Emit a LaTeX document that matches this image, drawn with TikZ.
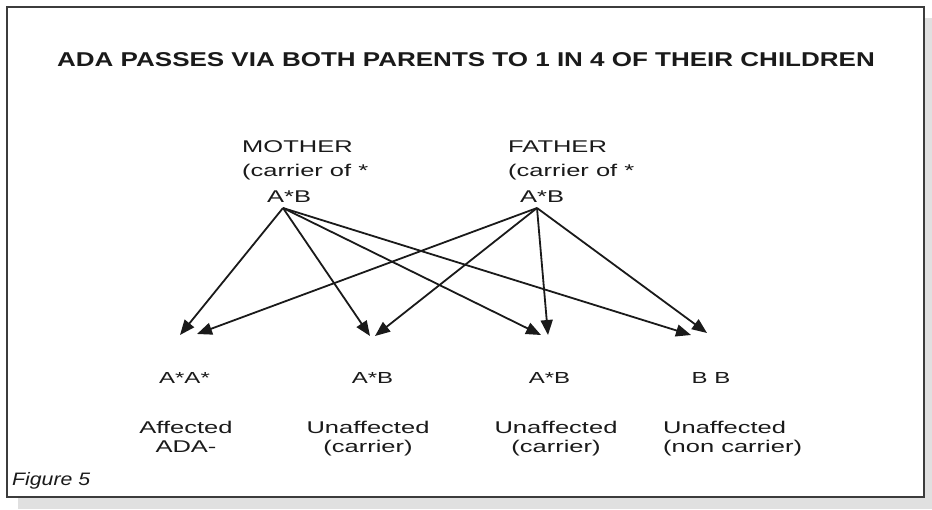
\documentclass[tikz,border=0pt]{standalone}
\usepackage{fontspec}
\setmainfont{Liberation Sans}
\newfontfamily\bodyfont{Liberation Sans}[FakeStretch=1.5]
\newfontfamily\titlefont{Liberation Sans}[FakeStretch=1.3]
\newfontfamily\figfont{Liberation Sans}[FakeStretch=1.18]
\usetikzlibrary{arrows.meta}
\definecolor{shadow}{HTML}{E0E0E0}
\definecolor{ink}{HTML}{1A1A1A}
\tikzset{
  txt/.style={inner sep=0pt, text=ink, font=\bodyfont\fontsize{17}{19}\selectfont},
  gen/.style={inner sep=0pt, text=ink, font=\bodyfont\fontsize{16}{19}\selectfont},
  desc/.style={inner sep=0pt, text=ink, font=\bodyfont\fontsize{17}{19}\selectfont},
  arr/.style={draw=ink, line width=1.8pt, -{Triangle[length=15pt,width=12pt]}},
}
\begin{document}
\begin{tikzpicture}[x=1pt,y=-1pt]
\useasboundingbox (0,0) rectangle (932,509);
% shadow and frame
\fill[shadow] (18,497) rectangle (932,509);
\fill[shadow] (924,18) rectangle (932,509);
\draw[draw=ink!85, line width=1.5pt, fill=white] (7,7) rectangle (924,497);
% title
\node[anchor=base, inner sep=0pt, text=ink, font=\titlefont\bfseries\fontsize{20}{24}\selectfont] (title) at (466,66) {ADA PASSES VIA BOTH PARENTS TO 1 IN 4 OF THEIR CHILDREN};
% parents
\node[txt, anchor=base west] (mname) at (242,152) {MOTHER};
\node[txt, anchor=base west] (mnote) at (242,176) {(carrier of *};
\node[txt, anchor=base west] (mgen) at (267,202) {A*B};
\node[txt, anchor=base west] (fname) at (508,152) {FATHER};
\node[txt, anchor=base west] (fnote) at (508,176) {(carrier of *};
\node[txt, anchor=base west] (fgen) at (520,202) {A*B};
\coordinate (mo) at (283,208);
\coordinate (fa) at (537,208);
% arrow tips
\coordinate (c1m) at (180,335);
\coordinate (c1f) at (197,334);
\coordinate (c2m) at (370,336);
\coordinate (c2f) at (375,336);
\coordinate (c3m) at (541,335);
\coordinate (c3f) at (548,335);
\coordinate (c4m) at (691,335);
\coordinate (c4f) at (707,333);
\foreach \t in {c1m,c2m,c3m,c4m} \draw[arr] (mo) -- (\t);
\foreach \t in {c1f,c2f,c3f,c4f} \draw[arr] (fa) -- (\t);
% children
\node[gen, anchor=base] (k1) at (184.5,383) {A*A*};
\node[gen, anchor=base] (k2) at (372.5,383) {A*B};
\node[gen, anchor=base] (k3) at (549.5,383) {A*B};
\node[gen, anchor=base] (k4) at (711,383) {B B};
% descriptions (base = last line)
\node[desc, anchor=base, align=center] (d1) at (186,452) {Affected\\ADA-};
\node[desc, anchor=base, align=center] (d2) at (368,452) {Unaffected\\(carrier)};
\node[desc, anchor=base, align=center] (d3) at (556,452) {Unaffected\\(carrier)};
\node[desc, anchor=base west, align=left] (d4) at (663,452) {Unaffected\\(non carrier)};
% caption
\node[anchor=base west, inner sep=0pt, text=ink, font=\figfont\itshape\fontsize{18}{20}\selectfont] (cap) at (12,485) {Figure 5};
\end{tikzpicture}
\end{document}
